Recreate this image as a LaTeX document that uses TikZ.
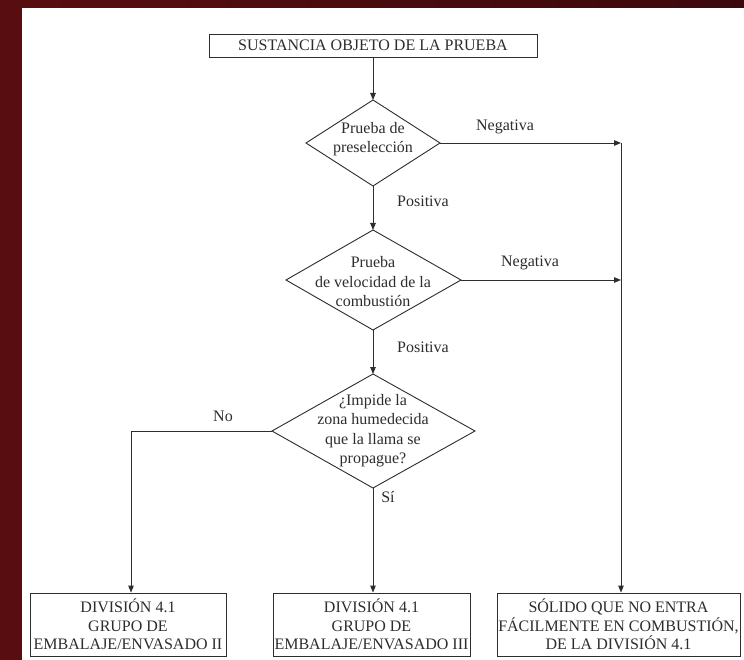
\documentclass[tikz,border=0pt]{standalone}
\usepackage{fontspec}
\setmainfont{Liberation Serif}
\usetikzlibrary{arrows.meta}
\definecolor{ink}{RGB}{45,45,45}
\definecolor{bgred}{RGB}{88,14,16}
\definecolor{bgdark}{RGB}{60,8,14}
\begin{document}
\begin{tikzpicture}[x=1pt,y=-1pt,
  font=\fontsize{16}{19.5}\selectfont,
  line/.style={draw=ink, line width=0.9pt},
  arr/.style={line, -{Triangle[length=7pt,width=5.5pt]}},
  box/.style={draw=ink, line width=0.9pt, rectangle, inner sep=0pt, align=center, text=ink},
  lbl/.style={text=ink, inner sep=0pt},
  dtext/.style={align=center, text=ink, inner sep=0pt}]
\useasboundingbox (0,0) rectangle (744,660);
\fill[bgred] (0,0) rectangle (744,660);
\shade[left color=bgred, right color=bgdark] (0,0) rectangle (744,8);
\fill[white] (22,8) rectangle (744,660);

% top box
\node[box, minimum width=328pt, minimum height=23pt] (top) at (373,45.5) {SUSTANCIA OBJETO DE LA PRUEBA};

% diamond 1
\coordinate (d1n) at (373,100);
\coordinate (d1e) at (440,143);
\coordinate (d1s) at (373,186);
\coordinate (d1w) at (306,143);
\draw[line] (d1n)--(d1e)--(d1s)--(d1w)--cycle;
\node[dtext] (d1) at (373,139) {Prueba de\\preselección};

% diamond 2
\coordinate (d2n) at (373,230);
\coordinate (d2e) at (461,280);
\coordinate (d2s) at (373,330);
\coordinate (d2w) at (286,280);
\draw[line] (d2n)--(d2e)--(d2s)--(d2w)--cycle;
\node[dtext] (d2) at (373,282) {Prueba\\de velocidad de la\\combustión};

% diamond 3
\coordinate (d3n) at (373,374);
\coordinate (d3e) at (475,431);
\coordinate (d3s) at (373,488);
\coordinate (d3w) at (272,431);
\draw[line] (d3n)--(d3e)--(d3s)--(d3w)--cycle;
\node[dtext] (d3) at (373,430.5) {¿Impide la\\zona humedecida\\que la llama se\\propague?};

% bottom boxes
\node[box, minimum width=196pt, minimum height=63pt, font=\fontsize{16}{18.5}\selectfont] (b1) at (128,624.5) {DIVISIÓN 4.1\\GRUPO DE\\EMBALAJE/ENVASADO II};
\node[box, minimum width=197pt, minimum height=63pt, font=\fontsize{16}{18.5}\selectfont] (b2) at (371.5,624.5) {DIVISIÓN 4.1\\GRUPO DE\\EMBALAJE/ENVASADO III};
\node[box, minimum width=243pt, minimum height=63pt, font=\fontsize{16}{18.5}\selectfont] (b3) at (618.5,624.5) {SÓLIDO QUE NO ENTRA\\FÁCILMENTE EN COMBUSTIÓN,\\DE LA DIVISIÓN 4.1};

% junctions
\coordinate (j1) at (621,143);
\coordinate (j2) at (621,280);
\coordinate (c1) at (131,431);

% connectors
\draw[arr] (top.south) -- (d1n);
\draw[arr] (d1s) -- (d2n);
\draw[arr] (d2s) -- (d3n);
\draw[arr] (d1e) -- (j1);
\draw[arr] (d2e) -- (j2);
\draw[arr] (j1) -- (j1 |- b3.north);
\draw[arr] (d3w) -- (c1) -- (c1 |- b1.north);
\draw[arr] (d3s) -- (d3s |- b2.north);

% labels
\node[lbl] (n1) at (505,127) {Negativa};
\node[lbl] (n2) at (530,263) {Negativa};
\node[lbl] (p1) at (423,201) {Positiva};
\node[lbl] (p2) at (423,347) {Positiva};
\node[lbl] (no) at (223,416) {No};
\node[lbl] (si) at (388,497) {Sí};
\end{tikzpicture}
\end{document}
